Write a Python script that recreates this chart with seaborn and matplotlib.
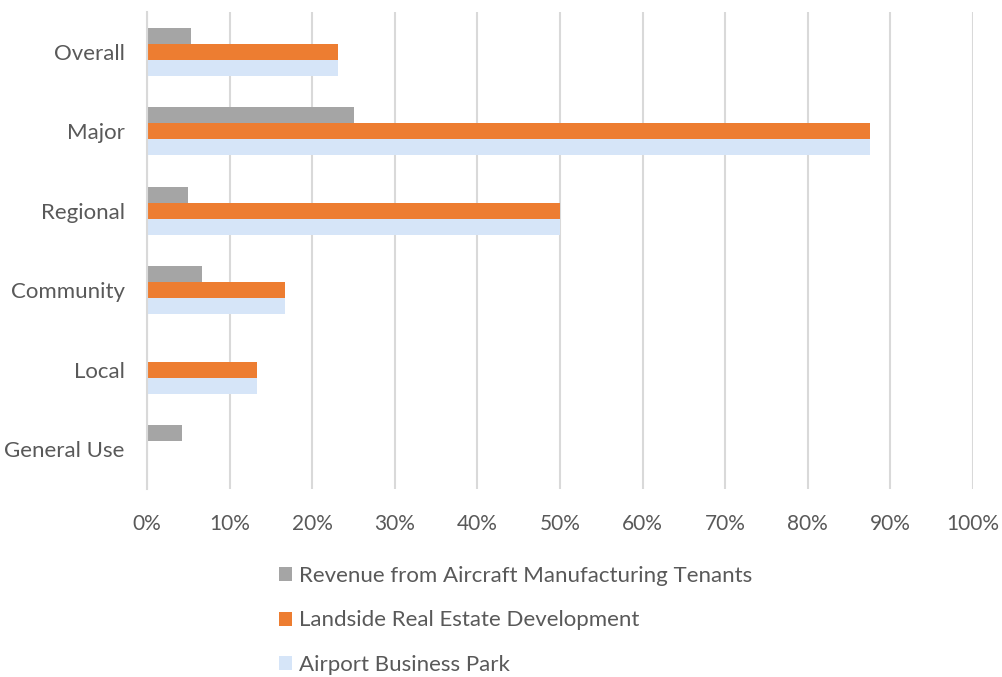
import matplotlib
matplotlib.use("Agg")
import matplotlib.pyplot as plt
import seaborn as sns
import pandas as pd
from matplotlib.patches import Patch

categories = ["Overall", "Major", "Regional", "Community", "Local", "General Use"]
series_names = ["Revenue from Aircraft Manufacturing Tenants",
                "Landside Real Estate Development",
                "Airport Business Park"]
revenue_aircraft = [5.3, 25.0, 5.0, 6.6, 0.0, 4.2]
landside_real_estate = [23.1, 87.5, 50.0, 16.7, 13.3, 0.0]
airport_business_park = [23.1, 87.5, 50.0, 16.7, 13.3, 0.0]
x_ticks = [0, 10, 20, 30, 40, 50, 60, 70, 80, 90, 100]
x_tick_labels = [f"{t}%" for t in x_ticks]
colors = ["#a5a5a5", "#ed7d31", "#d6e5f8"]

rows = []
for name, vals in zip(series_names, [revenue_aircraft, landside_real_estate, airport_business_park]):
    for c, v in zip(categories, vals):
        rows.append({"category": c, "series": name, "value": v})
df = pd.DataFrame(rows)

sns.set_theme(style="white")
plt.rcParams["font.family"] = ["Lato", "DejaVu Sans"]
text_color = "#595959"

fig = plt.figure(figsize=(10.02, 6.77), dpi=100)
ax = fig.add_axes([147/1002, 1-489/677, (973-147)/1002, (489-12)/677])

sns.barplot(data=df, y="category", x="value", hue="series", order=categories,
            hue_order=series_names, palette=colors, orient="h", width=0.6,
            gap=0, ax=ax, legend=False, saturation=1, linewidth=0)

ax.set_xlim(0, 100)
ax.set_xticks(x_ticks)
ax.set_xticklabels(x_tick_labels, fontsize=15, color=text_color)
ax.tick_params(axis="y", labelsize=16, labelcolor=text_color, length=0, pad=16)
ax.tick_params(axis="x", length=0, pad=18)
ax.set_xlabel("")
ax.set_ylabel("")
ax.xaxis.grid(True, color="#d9d9d9", linewidth=1.5)
ax.set_axisbelow(True)
for s in ["top", "right", "bottom"]:
    ax.spines[s].set_visible(False)
ax.spines["left"].set_color("#d9d9d9")
ax.spines["left"].set_linewidth(1.5)

handles = [Patch(facecolor=c, edgecolor="none") for c in colors]
fig.legend(handles, series_names, loc="upper left",
           bbox_to_anchor=(279/1002, 1-566/677), frameon=False, fontsize=16,
           labelcolor=text_color, handlelength=0.6, handleheight=0.6,
           handletextpad=0.3, labelspacing=1.1, borderpad=0, borderaxespad=0)

fig.savefig("out.png", dpi=100)
